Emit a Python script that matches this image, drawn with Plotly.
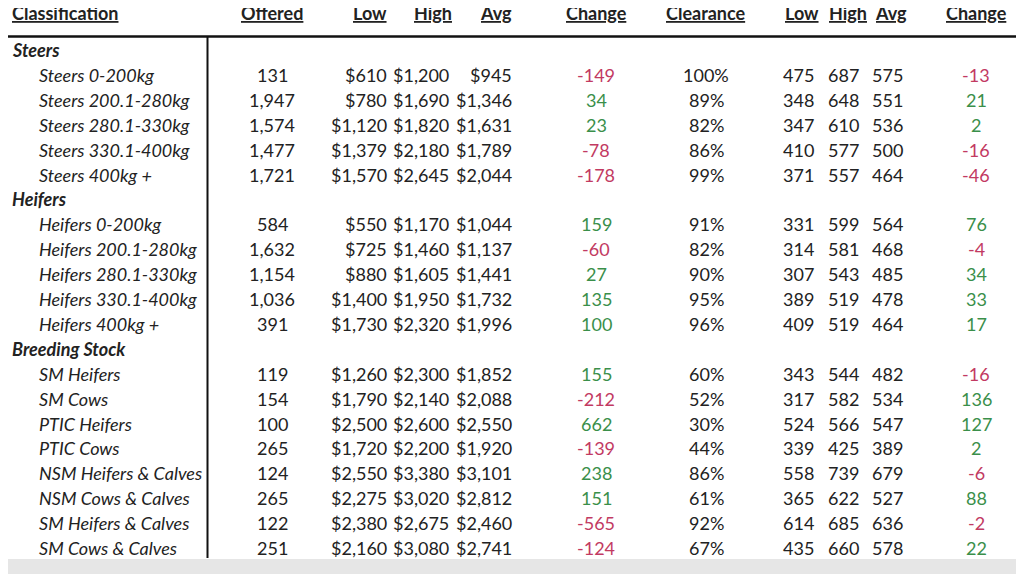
import plotly.graph_objects as go

headers = ["Classification", "Offered", "Low", "High", "Avg", "Change", "Clearance", "Low", "High", "Avg", "Change"]
rows = [
    ("Steers", None),
    ("Steers 0-200kg", ["131", "$610", "$1,200", "$945", -149, "100%", "475", "687", "575", -13]),
    ("Steers 200.1-280kg", ["1,947", "$780", "$1,690", "$1,346", 34, "89%", "348", "648", "551", 21]),
    ("Steers 280.1-330kg", ["1,574", "$1,120", "$1,820", "$1,631", 23, "82%", "347", "610", "536", 2]),
    ("Steers 330.1-400kg", ["1,477", "$1,379", "$2,180", "$1,789", -78, "86%", "410", "577", "500", -16]),
    ("Steers 400kg +", ["1,721", "$1,570", "$2,645", "$2,044", -178, "99%", "371", "557", "464", -46]),
    ("Heifers", None),
    ("Heifers 0-200kg", ["584", "$550", "$1,170", "$1,044", 159, "91%", "331", "599", "564", 76]),
    ("Heifers 200.1-280kg", ["1,632", "$725", "$1,460", "$1,137", -60, "82%", "314", "581", "468", -4]),
    ("Heifers 280.1-330kg", ["1,154", "$880", "$1,605", "$1,441", 27, "90%", "307", "543", "485", 34]),
    ("Heifers 330.1-400kg", ["1,036", "$1,400", "$1,950", "$1,732", 135, "95%", "389", "519", "478", 33]),
    ("Heifers 400kg +", ["391", "$1,730", "$2,320", "$1,996", 100, "96%", "409", "519", "464", 17]),
    ("Breeding Stock", None),
    ("SM Heifers", ["119", "$1,260", "$2,300", "$1,852", 155, "60%", "343", "544", "482", -16]),
    ("SM Cows", ["154", "$1,790", "$2,140", "$2,088", -212, "52%", "317", "582", "534", 136]),
    ("PTIC Heifers", ["100", "$2,500", "$2,600", "$2,550", 662, "30%", "524", "566", "547", 127]),
    ("PTIC Cows", ["265", "$1,720", "$2,200", "$1,920", -139, "44%", "339", "425", "389", 2]),
    ("NSM Heifers & Calves", ["124", "$2,550", "$3,380", "$3,101", 238, "86%", "558", "739", "679", -6]),
    ("NSM Cows & Calves", ["265", "$2,275", "$3,020", "$2,812", 151, "61%", "365", "622", "527", 88]),
    ("SM Heifers & Calves", ["122", "$2,380", "$2,675", "$2,460", -565, "92%", "614", "685", "636", -2]),
    ("SM Cows & Calves", ["251", "$2,160", "$3,080", "$2,741", -124, "67%", "435", "660", "578", 22]),
]

FONT = "Lato"
FS = 18
GREEN = "#3a8f4a"
RED = "#c23a62"
hdr_x = [10, 272, 370, 433, 496, 596, 706, 802, 848, 891, 976]
hdr_anchor = ["left"] + ["center"] * 10
val_x = [272, 389, 451, 514, 596, 706, 816, 861, 905, 976]
val_anchor = ["center", "right", "right", "right", "center", "center", "right", "right", "right", "center"]

fig = go.Figure()
ann = []
for h, x, a in zip(headers, hdr_x, hdr_anchor):
    ann.append(dict(x=x, y=13, text=f"<b><u>{h}</u></b>", xanchor=a, yanchor="middle",
                    showarrow=False, font=dict(family=FONT, size=FS, color="#222")))
y0, dy = 50, 24.9
for i, (name, vals) in enumerate(rows):
    y = y0 + i * dy
    if vals is None:
        ann.append(dict(x=10, y=y, text=f"<b><i>{name}</i></b>", xanchor="left", yanchor="middle",
                        showarrow=False, font=dict(family=FONT, size=FS, color="#222")))
        continue
    ann.append(dict(x=37, y=y, text=f"<i>{name}</i>", xanchor="left", yanchor="middle",
                    showarrow=False, font=dict(family=FONT, size=FS, color="#222")))
    for v, x, a in zip(vals, val_x, val_anchor):
        col = "#222"
        if isinstance(v, int):
            col = GREEN if v >= 0 else RED
            v = str(v)
        ann.append(dict(x=x, y=y, text=v, xanchor=a, yanchor="middle",
                        showarrow=False, font=dict(family=FONT, size=FS, color=col)))

shapes = [
    dict(type="rect", x0=-20, x1=1100, y0=559, y1=620, fillcolor="#e6e6e6", line_width=0, layer="below"),
    dict(type="rect", x0=-20, x1=4, y0=-20, y1=620, fillcolor="#e6e6e6", line_width=0, layer="below"),
    dict(type="line", x0=4, x1=1100, y0=36.5, y1=36.5, line=dict(color="#111", width=2.5)),
    dict(type="line", x0=207.5, x1=207.5, y0=37, y1=558, line=dict(color="#111", width=2)),
]
fig.update_layout(
    width=1024, height=574, margin=dict(l=0, r=0, t=0, b=0),
    plot_bgcolor="white", paper_bgcolor="white",
    xaxis=dict(range=[8, 1032], visible=False, fixedrange=True),
    yaxis=dict(range=[582, 8], visible=False, fixedrange=True),
    annotations=ann, shapes=shapes, showlegend=False,
)
fig.write_html("out.html", config={"displayModeBar": False})
